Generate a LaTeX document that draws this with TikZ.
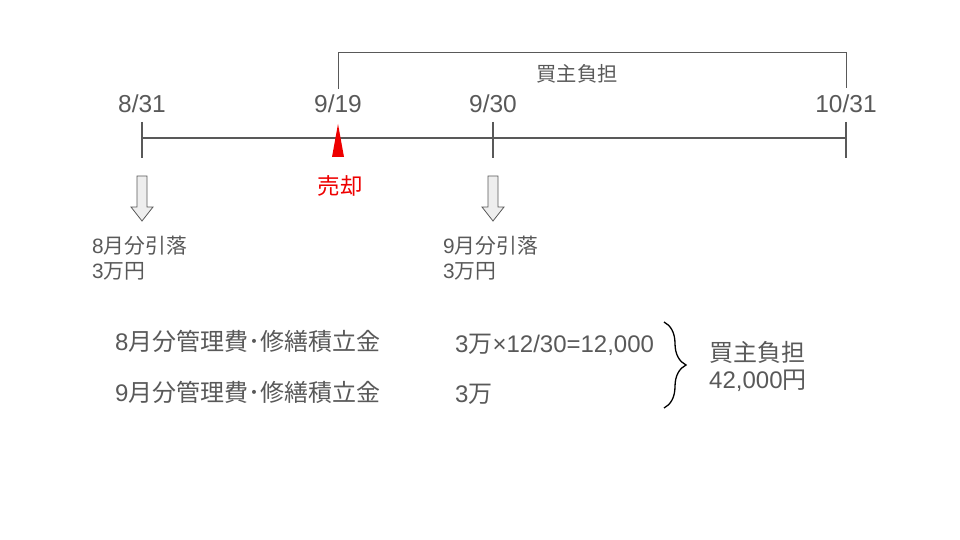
\documentclass[tikz,border=0pt]{standalone}
\usepackage{fontspec}
\setmainfont{Liberation Sans}
\newfontfamily\jp{Noto Sans CJK JP}
\usetikzlibrary{decorations.pathreplacing,calc}
\definecolor{tg}{HTML}{595959}
\definecolor{ag}{HTML}{EEEEEE}
\definecolor{rr}{HTML}{EE0000}
\tikzset{
  lbl/.style={text=tg,inner sep=0pt,font=\fontsize{24.5}{26}\selectfont},
  sm/.style={text=tg,inner sep=0pt,anchor=west,font=\fontsize{20.8}{22}\selectfont},
  md/.style={text=tg,inner sep=0pt,anchor=west,font=\fontsize{24}{26}\selectfont},
  ln/.style={draw=tg,line width=1.4pt},
  thin/.style={draw=tg,line width=0.9pt},
  darr/.style={draw=tg,fill=ag,line width=0.8pt},
}
\begin{document}
\begin{tikzpicture}[x=1pt,y=-1pt]
\useasboundingbox (0,0) rectangle (960,540);
% timeline
\coordinate (a) at (142,138);
\coordinate (b) at (846,138);
\draw[ln] (a) -- (b);
\draw[ln] (142,122) -- (142,158);
\draw[ln] (493,122) -- (493,158);
\draw[ln] (846,122) -- (846,158);
% labels
\node[lbl] (l1) at (142,104) {8/31};
\node[lbl] (l2) at (338,104) {9/19};
\node[lbl] (l3) at (493,104) {9/30};
\node[lbl] (l4) at (846,104) {10/31};
% bracket
\coordinate (bl) at (338,89);
\coordinate (br) at (846,88);
\draw[thin] (bl) -- (338,52) -- (846,52) -- (br);
\node[lbl,font=\jp\fontsize{20.3}{22}\selectfont] (buy) at (577,74) {買主負担};
% red triangle
\fill[rr] (338,124) -- (344,157) -- (332,157) -- cycle;
\node[inner sep=0pt,text=rr,font=\jp\fontsize{22.5}{24}\selectfont] (sell) at (340,186) {売却};
% down arrows
\foreach \x in {142,493}{
  \draw[darr] (\x-5,176) -- (\x+5,176) -- (\x+5,207) -- (\x+11,207) -- (\x,221) -- (\x-11,207) -- (\x-5,207) -- cycle;
}
\node[sm] (t1) at (92,246) {8{\jp 月分引落}};
\node[sm] (t2) at (92,271) {3{\jp 万円}};
\node[sm] (t3) at (443,246) {9{\jp 月分引落}};
\node[sm] (t4) at (443,271) {3{\jp 万円}};
% cost rows
\node[md] (c1) at (115,341) {8{\jp 月分管理費･修繕積立金}};
\node[md] (c2) at (115,392) {9{\jp 月分管理費･修繕積立金}};
\node[md] (v1) at (455,345) {3{\jp 万}×12/30=12,000};
\node[md] (v2) at (455,394) {3{\jp 万}};
% brace
\draw[draw=black,line width=1.3pt,decorate,decoration={brace,amplitude=22pt}] (664,322) -- (664,408);
\node[md] (s1) at (709,352) {\jp 買主負担};
\node[md] (s2) at (709,381) {42,000{\jp 円}};
\end{tikzpicture}
\end{document}
